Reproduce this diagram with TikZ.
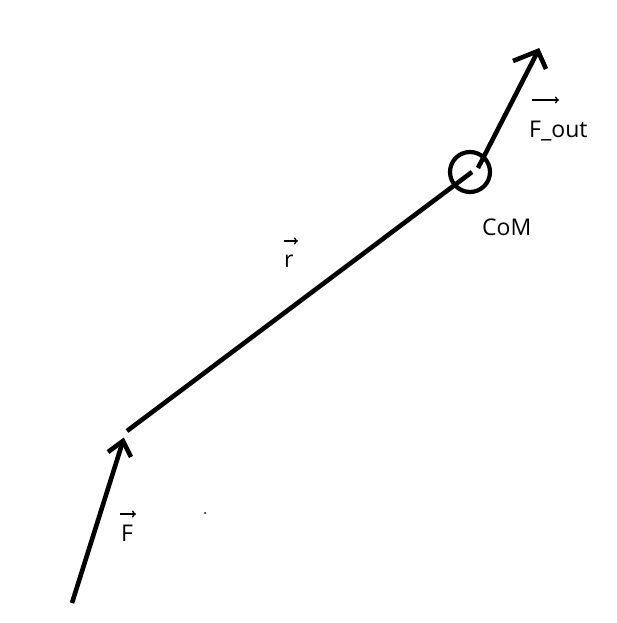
\documentclass[tikz,border=0pt]{standalone}
\usepackage{fontspec}
\setmainfont{Open Sans}
\usetikzlibrary{arrows.meta}
\begin{document}
\begin{tikzpicture}[x=1pt,y=1pt,
  thick line/.style={line width=4.6pt,line cap=butt,line join=miter},
  vecarrow/.style={line width=1.4pt,-{To[length=4pt,width=7pt]}},
  lbl/.style={anchor=base west,inner sep=0pt,font=\fontsize{23}{27}\selectfont}]
\useasboundingbox (0,0) rectangle (617,623);
% coordinates
\coordinate (Fstart) at (72,20);
\coordinate (Ftip) at (123,182);
\coordinate (Fw1) at (108,171);
\coordinate (Fw2) at (131,166);
\coordinate (rstart) at (127,192);
\coordinate (rend) at (472,451);
\coordinate (outstart) at (478,455);
\coordinate (outtip) at (538,572);
\coordinate (outw1) at (513,562);
\coordinate (outw2) at (546,554);
% shapes
\node[circle,draw,line width=4.2pt,minimum size=40pt,inner sep=0pt] (com) at (470,451) {};
\draw[thick line] (Fstart) -- (Ftip);
\draw[thick line] (Fw1) -- (Ftip) -- (Fw2);
\draw[thick line] (rstart) -- (rend);
\draw[thick line] (outstart) -- (outtip);
\draw[thick line] (outw1) -- (outtip) -- (outw2);
% labels
\node[lbl] (Fout) at (529,485) {F\_out};
\node[lbl] (CoM) at (482,387) {CoM};
\node[lbl] (rl) at (284,355) {r};
\node[lbl] (Fl) at (121,81) {F};
\coordinate (a1s) at (532,523);
\coordinate (a1e) at (559,523);
\coordinate (a2s) at (284,382);
\coordinate (a2e) at (298,382);
\coordinate (a3s) at (120,109);
\coordinate (a3e) at (136,109);
\draw[vecarrow] (a1s) -- (a1e);
\draw[vecarrow] (a2s) -- (a2e);
\draw[vecarrow] (a3s) -- (a3e);
\node[circle,fill,inner sep=0pt,minimum size=2pt] (dot) at (205,110) {};
\end{tikzpicture}
\end{document}
